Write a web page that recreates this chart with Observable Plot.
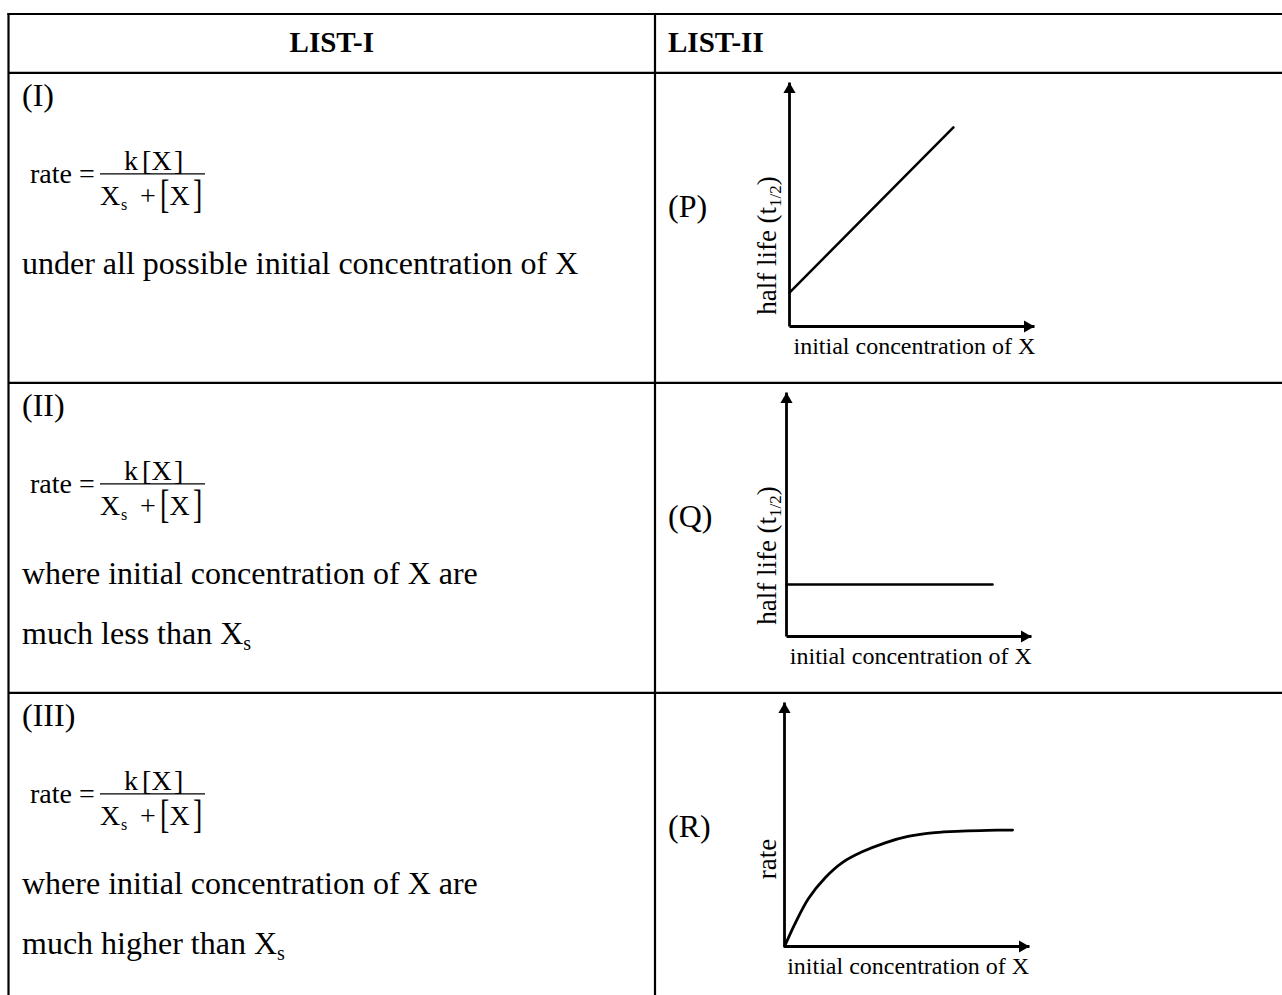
<!DOCTYPE html>
<html>
<head>
<meta charset="utf-8">
<script src="https://cdn.jsdelivr.net/npm/d3@7"></script>
<script src="https://cdn.jsdelivr.net/npm/@observablehq/plot@0.6"></script>
<style>
  html, body { margin: 0; padding: 0; background: #fff; }
  #page { position: relative; width: 1282px; height: 995px; overflow: hidden; background: #fff; }
  #page > svg.table { position: absolute; left: 0; top: 0; }
  .chart { position: absolute; }
</style>
</head>
<body>
<div id="page"></div>
<script>
// ---------------- data ----------------
const headers = ["LIST-I", "LIST-II"];
const rowLabels = ["(I)", "(II)", "(III)"];
const rateLhs = "rate =";
const numeratorParts = ["k", "[", "X", "]"];
const denominatorParts = ["X", "s", "+", "[", "X", "]"];
const conditions = [
  ["under all possible initial concentration of X"],
  ["where initial concentration of X are", "much less than X_s"],
  ["where initial concentration of X are", "much higher than X_s"]
];
const graphLabels = ["(P)", "(Q)", "(R)"];
const yLabels = ["half life (t1/2)", "half life (t1/2)", "rate"];
const xLabel = "initial concentration of X";
const axisMax = 10;

// (P) half life vs initial concentration: straight line with intercept
const pConc = [0, 6.69];
const pHalfLife = [1.39, 8.16];
// (Q) half life constant
const qConc = [0, 8.41];
const qHalfLife = [2.13, 2.13];
// (R) rate vs initial concentration: saturating curve
const rConc = [0, 0.45, 0.98, 1.67, 2.36, 3.17, 4.11, 5.04, 6.14, 7.24, 8.29, 9.31];
const rRate = [0, 0.98, 1.97, 2.83, 3.44, 3.88, 4.25, 4.51, 4.67, 4.73, 4.76, 4.77];

// ---------------- layout ----------------
const W = 1282, H = 995;
const serif = "'Liberation Serif','Times New Roman',Times,serif";
const colL = 8.5, colM = 655, topY = 14, headY = 72.8, rowH = 310;

const page = d3.select("#page");
const svg = page.append("svg").attr("class", "table").attr("width", W).attr("height", H)
  .attr("font-family", serif).attr("fill", "#000");

// table rules
const g = svg.append("g").attr("stroke", "#000").attr("stroke-width", 2.2);
g.append("line").attr("x1", colL - 1.1).attr("x2", W).attr("y1", topY).attr("y2", topY);
for (let i = 0; i < 3; i++) {
  const y = headY + i * rowH;
  g.append("line").attr("x1", colL).attr("x2", W).attr("y1", y).attr("y2", y);
}
g.append("line").attr("x1", colL).attr("x2", colL).attr("y1", topY - 1.1).attr("y2", H);
g.append("line").attr("x1", colM).attr("x2", colM).attr("y1", topY - 1.1).attr("y2", H);

// headers
svg.append("text").attr("x", (colL + colM) / 2).attr("y", 52).attr("text-anchor", "middle")
  .attr("font-weight", "bold").attr("font-size", 29).text(headers[0]);
svg.append("text").attr("x", 668).attr("y", 52)
  .attr("font-weight", "bold").attr("font-size", 29).text(headers[1]);

function withSub(sel, str, size, subSize, shift) {
  const parts = str.split("_");
  sel.append("tspan").text(parts[0]);
  if (parts.length > 1) {
    sel.append("tspan").attr("font-size", subSize).attr("dy", shift).text(parts[1]);
  }
}

for (let i = 0; i < 3; i++) {
  const top = headY + i * rowH;
  // row label
  svg.append("text").attr("x", 22).attr("y", top + 33).attr("font-size", 32).text(rowLabels[i]);
  // formula
  const f = svg.append("g").attr("font-size", 28);
  f.append("text").attr("x", 30).attr("y", top + 110).text(rateLhs);
  f.append("line").attr("x1", 100).attr("x2", 205).attr("y1", top + 101).attr("y2", top + 101)
    .attr("stroke", "#000").attr("stroke-width", 1.3);
  const numX = [124, 142, 151.5, 174];
  numeratorParts.forEach((p, j) => {
    f.append("text").attr("x", numX[j]).attr("y", top + 97).text(p);
  });
  // denominator
  const base = top + 132;
  f.append("text").attr("x", 100).attr("y", base).text(denominatorParts[0]);
  f.append("text").attr("x", 121).attr("y", base + 5).attr("font-size", 16).text(denominatorParts[1]);
  f.append("text").attr("x", 140).attr("y", base).text(denominatorParts[2]);
  const cy = base - 7.6;
  [[160, 3], [193, 5]].forEach(([x, idx]) => {
    f.append("g").attr("transform", `translate(${x},${cy}) scale(1,1.42)`)
      .append("text").attr("x", 0).attr("y", 7.6).text(denominatorParts[idx]);
  });
  f.append("text").attr("x", 169.5).attr("y", base).text(denominatorParts[4]);
  // conditions
  conditions[i].forEach((line, j) => {
    const t = svg.append("text").attr("x", 22).attr("y", top + 201 + j * 60).attr("font-size", 32);
    withSub(t, line, 32, 20, 6);
  });
  // graph label
  svg.append("text").attr("x", 668).attr("y", top + 144).attr("font-size", 32).text(graphLabels[i]);
}

// ---------------- charts (Observable Plot) ----------------
const series = [
  pConc.map((c, j) => ({conc: c, val: pHalfLife[j]})),
  qConc.map((c, j) => ({conc: c, val: qHalfLife[j]})),
  rConc.map((c, j) => ({conc: c, val: rRate[j]}))
];
const chartLayout = [
  {originX: 789, labelY: 3.32, ylDx: -22.6, xlDx: 4, curve: "linear", sw: 2.5},
  {originX: 786, labelY: 3.32, ylDx: -19.6, xlDx: 3.3, curve: "linear", sw: 2.5},
  {originX: 784, labelY: 3.59, ylDx: -17.6, xlDx: 2.7, curve: "catmull-rom", sw: 2.8}
];
const boxLeft = 730, boxW = 310, boxH = 300, xLen = 245;

for (let i = 0; i < 3; i++) {
  const top = headY + i * rowH;
  const L = chartLayout[i];
  const boxTop = top + 2;
  const originY = top + 253;
  const tipY = top + 9;
  const marginLeft = L.originX - boxLeft;
  const marginRight = boxW - (marginLeft + xLen);
  const marginTop = tipY - boxTop;
  const marginBottom = boxH - (originY - boxTop);

  const axes = [
    {x1: 0, y1: 0, x2: axisMax, y2: 0},
    {x1: 0, y1: 0, x2: 0, y2: axisMax}
  ];
  const chart = Plot.plot({
    width: boxW, height: boxH,
    marginLeft, marginRight, marginTop, marginBottom,
    x: {domain: [0, axisMax], axis: null},
    y: {domain: [0, axisMax], axis: null},
    style: {background: "transparent", overflow: "visible"},
    marks: [
      Plot.link(axes, {x1: "x1", y1: "y1", x2: "x2", y2: "y2", stroke: "black", strokeWidth: 2.8}),
      Plot.dot([{x: axisMax, y: 0}], {x: "x", y: "y", symbol: "triangle", r: 4.5, fill: "black", rotate: 90, dx: -7}),
      Plot.dot([{x: 0, y: axisMax}], {x: "x", y: "y", symbol: "triangle", r: 4.5, fill: "black", dy: 7}),
      Plot.line(series[i], {x: "conc", y: "val", curve: L.curve, stroke: "black", strokeWidth: L.sw}),
      Plot.text([{x: 0, y: 0, t: xLabel}], {x: "x", y: "y", text: "t", textAnchor: "start",
        dx: L.xlDx, dy: 19.5, fontSize: 24, fontFamily: serif, fill: "black"}),
      Plot.text([{x: 0, y: L.labelY, t: yLabels[i]}], {x: "x", y: "y", text: "t", rotate: -90,
        dx: L.ylDx, fontSize: 27, fontFamily: serif, fill: "black"})
    ]
  });
  // subscript for t1/2
  d3.select(chart).selectAll("text").each(function () {
    const s = this.textContent;
    const m = s.match(/^(.*\(t)(1\/2)(\).*)$/);
    if (m) {
      const el = d3.select(this);
      el.text("");
      el.append("tspan").text(m[1]);
      el.append("tspan").attr("font-size", 17).attr("dy", 5).text(m[2]);
      el.append("tspan").attr("dy", -5).text(m[3]);
    }
  });
  const holder = page.append("div").attr("class", "chart")
    .style("left", boxLeft + "px").style("top", boxTop + "px");
  holder.node().appendChild(chart);
}
</script>
</body>
</html>
